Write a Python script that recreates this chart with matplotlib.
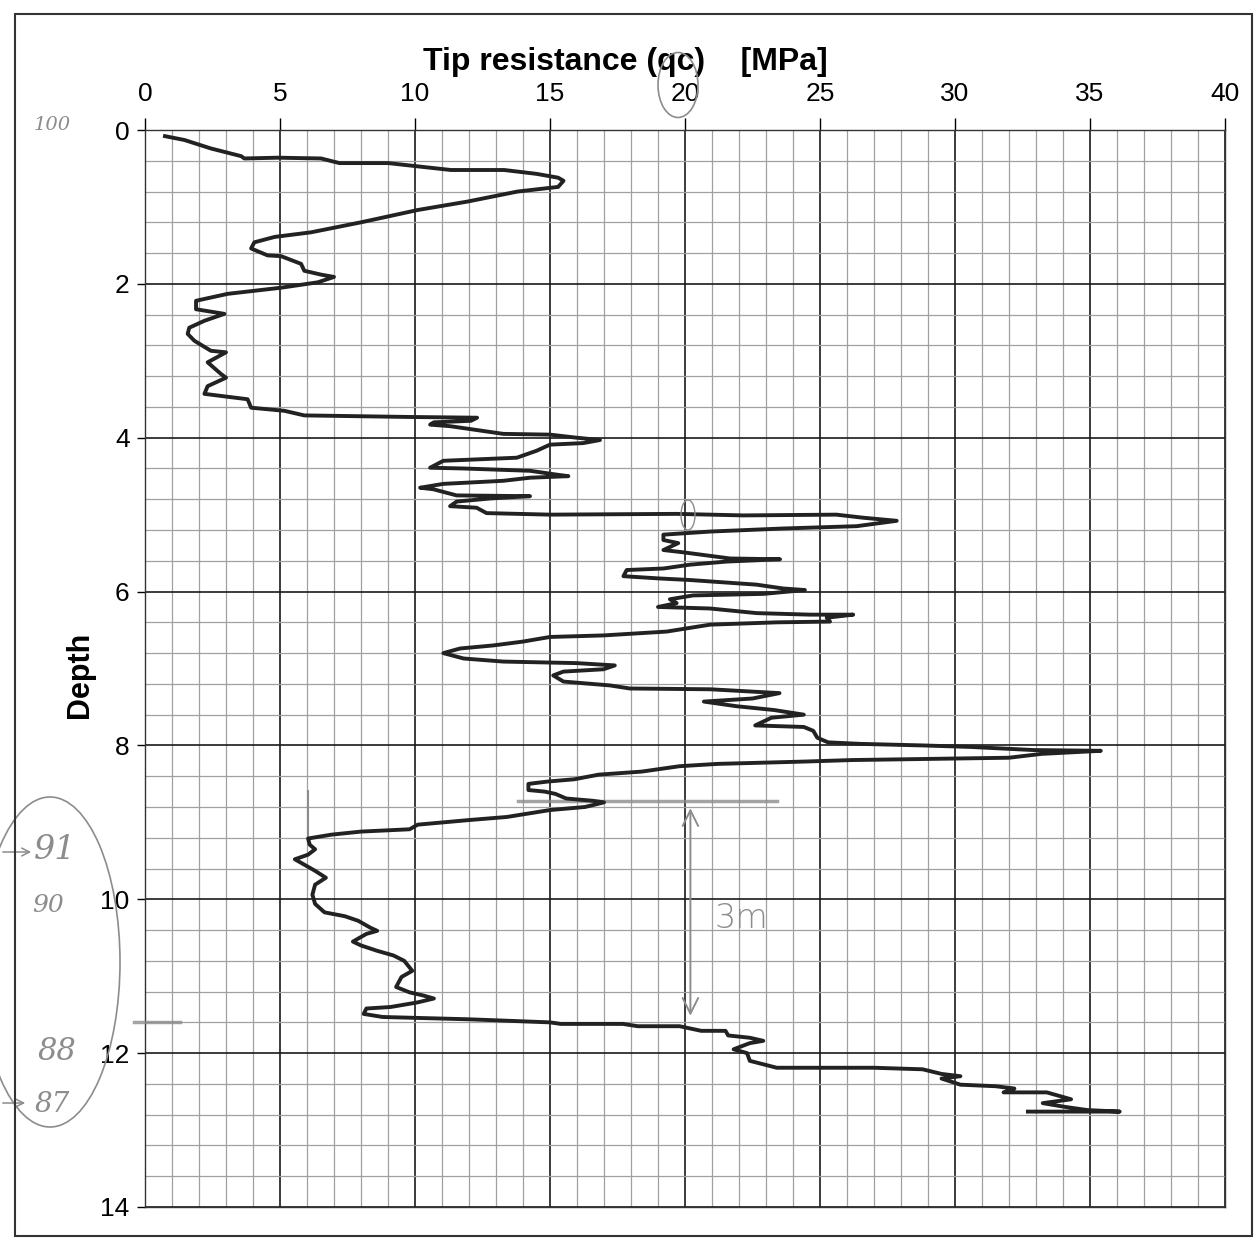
import matplotlib
matplotlib.use('Agg')
import matplotlib.pyplot as plt
from matplotlib.patches import Rectangle, Ellipse
import numpy as np

# cone tip resistance profile
qc = [0.74, 1.46, 2.44, 3.56, 3.68, 4.91, 6.52, 7.2, 9.0, 11.33, 13.3, 14.5, 15.3, 15.5, 15.3,
      13.8, 11.95, 10.1, 8.0, 6.15, 4.8, 4.05, 3.93, 4.54, 5.04, 5.78, 5.9, 6.52, 7.0, 6.4,
      5.04, 3.06, 1.89, 1.89, 2.94, 2.2, 1.64, 1.58, 1.83, 2.44, 3.0, 2.32, 2.81, 3.0, 2.32,
      2.2, 3.8, 3.93, 5.16, 5.9, 9.73, 12.3, 12.07, 10.7,
      10.56, 11.3, 13.27, 15.0, 15.99, 16.85, 16.23, 15.0, 14.5, 13.77, 11.05, 10.56, 11.8,
      14.26, 15.25, 15.68, 14.26, 13.27, 11.05, 10.19, 10.68, 11.54, 14.26, 12.78, 11.54,
      11.3, 12.28, 12.65, 15.0, 19.69, 22.16, 25.6, 26.6, 27.84, 26.36, 23.64, 20.93, 19.2,
      19.2, 19.75, 19.2, 19.94, 21.67, 23.52, 21.54, 20.19, 19.2, 17.84, 17.72, 19.07, 20.19,
      22.65, 23.64, 24.44, 22.9, 20.3, 19.44, 19.69, 19.0, 20.93, 22.65, 24.63, 26.23, 25.25,
      25.37, 23.4, 20.93, 19.32, 16.98, 15.0, 14.0, 12.9, 11.67, 11.05, 11.8, 13.27, 15.99,
      17.4, 16.98, 15.5, 15.12, 15.5, 17.22, 17.96, 20.93, 23.5,
      22.5, 20.7, 21.9, 23.3, 24.4, 23.2, 22.6, 24.4, 24.75, 24.9, 25.3, 26.5, 28.8, 30.6,
      32.9, 35.4, 33.2, 32.0, 26.2, 24.4, 21.2, 19.8, 18.4, 16.8, 15.9, 14.9, 14.2, 14.2,
      14.8, 15.2, 15.6, 16.6, 17.0, 16.3, 15.0, 13.4, 12.0, 10.1,
      9.8, 8.0, 6.9, 6.04, 6.1, 6.3, 6.04, 5.55, 5.9, 6.3, 6.7, 6.3, 6.2, 6.3, 6.65, 7.4,
      7.9, 8.35, 8.6, 8.2, 7.7, 8.0, 8.6, 9.2, 9.6, 9.9, 9.5, 9.3, 9.8, 10.3, 10.7, 10.1,
      9.1, 8.2, 8.1, 8.8, 12.0,
      15.0, 15.4, 17.7, 18.25, 19.8, 20.6, 21.5, 21.6, 22.4, 22.9, 22.4, 21.8, 22.3, 22.4,
      23.4, 27.0, 28.8, 29.5, 30.2, 29.5, 30.2, 31.5, 32.2, 31.8, 33.4, 34.3, 33.25, 34.1,
      34.9, 36.1, 32.7]
depth = [0.08, 0.13, 0.24, 0.34, 0.37, 0.36, 0.37, 0.43, 0.43, 0.52, 0.52, 0.57, 0.62, 0.66, 0.74,
         0.8, 0.93, 1.04, 1.2, 1.33, 1.39, 1.46, 1.54, 1.63, 1.64, 1.74, 1.83, 1.88, 1.91, 1.98,
         2.05, 2.13, 2.22, 2.33, 2.39, 2.48, 2.57, 2.65, 2.74, 2.87, 2.89, 3.02, 3.17, 3.22, 3.33,
         3.43, 3.5, 3.61, 3.65, 3.71, 3.73, 3.74, 3.78, 3.8,
         3.83, 3.85, 3.95, 3.96, 4.0, 4.03, 4.07, 4.09, 4.17, 4.26, 4.3, 4.39, 4.4,
         4.43, 4.48, 4.5, 4.52, 4.56, 4.6, 4.65, 4.67, 4.75, 4.76, 4.79, 4.83,
         4.89, 4.91, 4.98, 5.0, 4.99, 5.01, 5.0, 5.04, 5.08, 5.15, 5.18, 5.22, 5.26,
         5.33, 5.37, 5.46, 5.49, 5.57, 5.58, 5.61, 5.65, 5.7, 5.72, 5.8, 5.83, 5.85,
         5.91, 5.96, 5.98, 6.03, 6.05, 6.1, 6.15, 6.2, 6.22, 6.28, 6.3, 6.3, 6.34,
         6.39, 6.4, 6.43, 6.52, 6.57, 6.59, 6.65, 6.7, 6.74, 6.8, 6.87, 6.91, 6.93,
         6.96, 7.01, 7.04, 7.09, 7.17, 7.22, 7.26, 7.27, 7.32,
         7.39, 7.43, 7.49, 7.54, 7.6, 7.64, 7.74, 7.76, 7.81, 7.9, 7.96, 7.98, 8.0, 8.02,
         8.06, 8.07, 8.11, 8.16, 8.19, 8.21, 8.24, 8.27, 8.34, 8.38, 8.44, 8.47, 8.5, 8.58,
         8.6, 8.63, 8.69, 8.72, 8.74, 8.8, 8.84, 8.93, 8.97, 9.03,
         9.09, 9.12, 9.16, 9.21, 9.29, 9.35, 9.42, 9.48, 9.55, 9.63, 9.72, 9.81, 9.94, 10.06, 10.17, 10.22,
         10.28, 10.37, 10.41, 10.45, 10.55, 10.6, 10.67, 10.73, 10.8, 10.93, 11.01, 11.14, 11.21, 11.25, 11.29, 11.34,
         11.4, 11.42, 11.49, 11.53, 11.56,
         11.6, 11.62, 11.62, 11.65, 11.65, 11.71, 11.71, 11.77, 11.8, 11.84, 11.87, 11.95, 12.0, 12.1,
         12.19, 12.19, 12.21, 12.27, 12.3, 12.33, 12.41, 12.43, 12.46, 12.51, 12.51, 12.6, 12.65, 12.7,
         12.74, 12.76, 12.76]

x_ticks = [0, 5, 10, 15, 20, 25, 30, 35, 40]
y_ticks = [0, 2, 4, 6, 8, 10, 12, 14]

# pencil marks on the sheet
pencil_depths = [8.72, 11.6]
pencil_spans = [[13.8, 23.4], [-0.4, 1.3]]
pencil_tick_q = 6.04
pencil_tick_depths = [8.59, 9.2]
arrow_q = 20.2
arrow_depths = [8.78, 11.55]
margin_notes = ['100', '91', '90', '88', '87']

plt.rcParams['font.family'] = ['Liberation Sans Narrow', 'Liberation Sans', 'DejaVu Sans']

W, H = 1259, 1240
fig = plt.figure(figsize=(W / 100, H / 100), dpi=100)
ax = fig.add_axes([145 / W, 1 - 1207 / H, 1080 / W, 1077 / H])

def px(x, y):
    return x / W, 1 - y / H

ax.plot(qc, depth, color='#222222', lw=2.8, solid_joinstyle='round', zorder=5)

ax.set_xlim(0, 40)
ax.set_ylim(14, 0)
ax.set_xticks(x_ticks)
ax.set_yticks(y_ticks)
ax.set_xticks(np.arange(0, 41, 1), minor=True)
ax.set_yticks(np.arange(0, 14.01, 0.4), minor=True)
ax.grid(which='minor', color='#a0a0a0', lw=0.9)
ax.grid(which='major', color='#1a1a1a', lw=1.2)
ax.set_axisbelow(True)
ax.xaxis.tick_top()
ax.tick_params(axis='x', which='major', length=9, width=1, pad=8, labelsize=19)
ax.tick_params(axis='y', which='major', length=6, width=1, pad=5, labelsize=19)
ax.tick_params(which='minor', length=0)
for s in ax.spines.values():
    s.set_linewidth(1.0)
    s.set_color('#333333')

ax.text(0.445, 1.063, 'Tip resistance (qc)    [MPa]', transform=ax.transAxes,
        ha='center', va='center', fontsize=23, fontweight='bold')
ax.text(-0.06, 0.494, 'Depth', transform=ax.transAxes, rotation=90,
        ha='center', va='center', fontsize=22, fontweight='bold', family='Liberation Sans')

# pencil annotations
pencil = '#8c8c8c'
for d, span in zip(pencil_depths, pencil_spans):
    ax.plot(span, [d, d], color=pencil, lw=2.5, alpha=0.8, zorder=4, clip_on=False)
ax.plot([pencil_tick_q, pencil_tick_q], pencil_tick_depths, color=pencil, lw=1.5, zorder=4)
ax.annotate('', xy=(arrow_q, arrow_depths[1]), xytext=(arrow_q, arrow_depths[0]),
            arrowprops=dict(arrowstyle='<->', color=pencil, lw=1.4, mutation_scale=28))
ax.text(21.1, 10.25, '3m', color=pencil, fontsize=24, family='DejaVu Sans',
        fontweight='light', ha='left', va='center')

note_pos = [(52, 125), (55, 850), (48, 905), (57, 1052), (52, 1105)]
note_size = [14, 24, 18, 22, 20]
for t, (x, y), fs in zip(margin_notes, note_pos, note_size):
    fig.text(*px(x, y), t, color=pencil, fontsize=fs, family='DejaVu Serif',
             style='italic', ha='center', va='center')
for y, x1 in [(852, 34), (1103, 28)]:
    fig.add_artist(matplotlib.patches.FancyArrowPatch(px(0, y), px(x1, y), transform=fig.transFigure,
                                                      arrowstyle='->', mutation_scale=14,
                                                      color=pencil, lw=1.1))
fig.patches.append(Ellipse(px(50, 962), 140 / W, 330 / H, transform=fig.transFigure,
                           fill=False, ec=pencil, lw=1.2))
fig.patches.append(Ellipse(px(678, 85), 40 / W, 65 / H, transform=fig.transFigure,
                           fill=False, ec=pencil, lw=1.2))
fig.patches.append(Ellipse(px(688, 515), 14 / W, 30 / H, transform=fig.transFigure,
                           fill=False, ec=pencil, lw=1.0))

# page border of the scan
fig.patches.append(Rectangle(px(15, 1236), 1237 / W, 1222 / H, transform=fig.transFigure,
                             fill=False, ec='#333333', lw=1.5))

fig.savefig('out.png', dpi=100)
